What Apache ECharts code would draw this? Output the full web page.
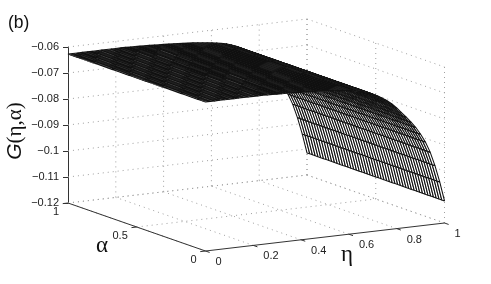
<!DOCTYPE html>
<html>
<head>
<meta charset="utf-8">
<style>html,body{margin:0;padding:0;background:#fff}#c{width:491px;height:284px}</style>
<script src="https://cdn.jsdelivr.net/npm/echarts@6/dist/echarts.min.js"></script>
</head>
<body>
<div id="c"></div>
<script>
const etaValues = [0,0.02,0.04,0.06,0.08,0.1,0.12,0.14,0.16,0.18,0.2,0.22,0.24,0.26,0.28,0.3,0.32,0.34,0.36,0.38,0.4,0.42,0.44,0.46,0.48,0.5,0.52,0.54,0.56,0.58,0.6,0.62,0.64,0.66,0.68,0.7,0.72,0.74,0.76,0.78,0.8,0.82,0.84,0.86,0.88,0.9,0.92,0.94,0.96,0.98,1];
const alphaValues = [0,0.02,0.04,0.06,0.08,0.1,0.12,0.14,0.16,0.18,0.2,0.22,0.24,0.26,0.28,0.3,0.32,0.34,0.36,0.38,0.4,0.42,0.44,0.46,0.48,0.5,0.52,0.54,0.56,0.58,0.6,0.62,0.64,0.66,0.68,0.7,0.72,0.74,0.76,0.78,0.8,0.82,0.84,0.86,0.88,0.9,0.92,0.94,0.96,0.98,1];
const gValues = [-0.0627,-0.0627,-0.0627,-0.0627,-0.0627,-0.0627,-0.0627,-0.0627,-0.0627,-0.0627,-0.0627,-0.0627,-0.0627,-0.0628,-0.0628,-0.0629,-0.063,-0.063,-0.0631,-0.0632,-0.0633,-0.0634,-0.0635,-0.0636,-0.0637,-0.0639,-0.064,-0.0642,-0.0644,-0.0646,-0.0648,-0.0651,-0.0655,-0.0659,-0.0665,-0.0672,-0.0681,-0.0692,-0.0704,-0.0718,-0.0736,-0.0756,-0.0776,-0.0797,-0.082,-0.0848,-0.088,-0.0921,-0.0975,-0.104,-0.1115];
const etaTicks = [0,0.2,0.4,0.6,0.8,1];
const alphaTicks = [0,0.5,1];
const gTicks = [-0.12,-0.11,-0.1,-0.09,-0.08,-0.07,-0.06];
const gMin = -0.12, gMax = -0.06;

const ALPHA_DX = 137.5, ALPHA_DY = 48, ETA_RISE = 28;
const AXIS = '#333', MESH = '#111', GRID = '#a0a0a0', TEXT = '#222';
const SANS = '"Liberation Sans", Arial, sans-serif', SERIF = '"Liberation Serif", serif';

function project(api, eta, alpha, g) {
  const p = api.coord([eta, g]);
  return [p[0] + (1 - alpha) * ALPHA_DX, p[1] + (1 - alpha) * ALPHA_DY - eta * ETA_RISE];
}

// wall and floor grid, and the two floor axes
const segs = [];
const dotted = 1, solid = 0;
gTicks.forEach(g => {
  segs.push([0, 1, g, 1, 1, g, dotted]);
  segs.push([1, 1, g, 1, 0, g, dotted]);
});
etaTicks.forEach(e => {
  if (e > 0) segs.push([e, 1, gMin, e, 1, gMax, dotted]);
  segs.push([e, 0, gMin, e, 1, gMin, dotted]);
});
alphaTicks.forEach(a => {
  segs.push([1, a, gMin, 1, a, gMax, dotted]);
  if (a > 0) segs.push([0, a, gMin, 1, a, gMin, dotted]);
});
segs.push([0, 0, gMin, 1, 0, gMin, solid]);
segs.push([0, 0, gMin, 0, 1, gMin, solid]);
etaTicks.forEach(e => segs.push([e, 0, gMin, e, -0.03, gMin, solid]));
alphaTicks.forEach(a => segs.push([0, a, gMin, -0.022, a, gMin, solid]));

// mesh cells, far corner first so that near cells cover them
const cells = [];
for (let i = etaValues.length - 2; i >= 0; i--) {
  for (let j = alphaValues.length - 2; j >= 0; j--) cells.push([etaValues[i], gValues[i], i, j]);
}

const etaLabels = etaTicks.map(e => [e, String(e)]);
const alphaLabels = alphaTicks.map(a => [a, String(a)]);

const chart = echarts.init(document.getElementById('c'), null, {renderer: 'canvas'});
chart.setOption({
  animation: false,
  backgroundColor: '#fff',
  grid: {left: 68, top: 47, width: 239, height: 156, containLabel: false},
  xAxis: {type: 'value', min: 0, max: 1, show: false},
  yAxis: {
    type: 'value', min: gMin, max: gMax, interval: 0.01,
    axisLine: {show: true, onZero: false, lineStyle: {color: AXIS, width: 1}},
    axisTick: {show: true, length: 5, lineStyle: {color: AXIS}},
    splitLine: {show: false},
    axisLabel: {
      color: TEXT, fontFamily: SANS, fontSize: 11, margin: 9,
      formatter: v => '\u2212' + Math.abs(Math.round(v * 100) / 100)
    }
  },
  graphic: [
    {type: 'text', left: 8, top: 14, style: {text: '(b)', font: '17.5px ' + SANS, fill: '#111'}},
    {type: 'text', x: 15, y: 131, rotation: Math.PI / 2, style: {
      rich: {g: {fontStyle: 'italic', fontFamily: SANS, fontSize: 21, fill: '#111'},
             r: {fontFamily: SERIF, fontSize: 21, fill: '#111'}},
      text: '{g|G}{r|(\u03b7,\u03b1)}', align: 'center', verticalAlign: 'middle'}},
    {type: 'text', x: 102, y: 246, style: {text: '\u03b1', font: '23px ' + SERIF, fill: '#111', align: 'center', verticalAlign: 'middle'}},
    {type: 'text', x: 347, y: 255, style: {text: '\u03b7', font: '23px ' + SERIF, fill: '#111', align: 'center', verticalAlign: 'middle'}}
  ],
  series: [
    {
      type: 'custom', coordinateSystem: 'cartesian2d', silent: true, clip: false, z: 1,
      data: segs, encode: {x: 0, y: 2},
      renderItem(params, api) {
        const a = project(api, api.value(0), api.value(1), api.value(2));
        const b = project(api, api.value(3), api.value(4), api.value(5));
        const dot = api.value(6) === dotted;
        return {type: 'line', shape: {x1: a[0], y1: a[1], x2: b[0], y2: b[1]},
          style: dot ? {stroke: GRID, lineWidth: 1, lineDash: [1, 4]} : {stroke: AXIS, lineWidth: 1}};
      }
    },
    {
      type: 'custom', coordinateSystem: 'cartesian2d', silent: true, clip: false, z: 3,
      data: etaLabels, encode: {x: 0},
      renderItem(params, api) {
        const e = api.value(0);
        const p = project(api, e, 0, gMin);
        return {type: 'text', x: p[0] + 10, y: p[1] + 11, style: {text: etaLabels[params.dataIndex][1], font: '11px ' + SANS, fill: TEXT, align: 'left', verticalAlign: 'middle'}};
      }
    },
    {
      type: 'custom', coordinateSystem: 'cartesian2d', silent: true, clip: false, z: 3,
      data: alphaLabels, encode: {y: 0},
      renderItem(params, api) {
        const a = alphaLabels[params.dataIndex][0];
        const p = project(api, 0, a, gMin);
        return {type: 'text', x: p[0] - 9, y: p[1] + 8.5, style: {text: alphaLabels[params.dataIndex][1], font: '11px ' + SANS, fill: TEXT, align: 'right', verticalAlign: 'middle'}};
      }
    },
    {
      type: 'custom', coordinateSystem: 'cartesian2d', silent: true, clip: false, z: 2,
      progressive: 0, data: cells, encode: {x: 0, y: 1},
      renderItem(params, api) {
        const i = api.value(2), j = api.value(3);
        const e0 = etaValues[i], e1 = etaValues[i + 1], a0 = alphaValues[j], a1 = alphaValues[j + 1];
        const g0 = gValues[i], g1 = gValues[i + 1];
        return {type: 'polygon', shape: {points: [
          project(api, e0, a0, g0), project(api, e1, a0, g1),
          project(api, e1, a1, g1), project(api, e0, a1, g0)]},
          style: {fill: '#fff', stroke: MESH, lineWidth: 1.05, lineJoin: 'bevel'}};
      }
    }
  ]
});
</script>
</body>
</html>
